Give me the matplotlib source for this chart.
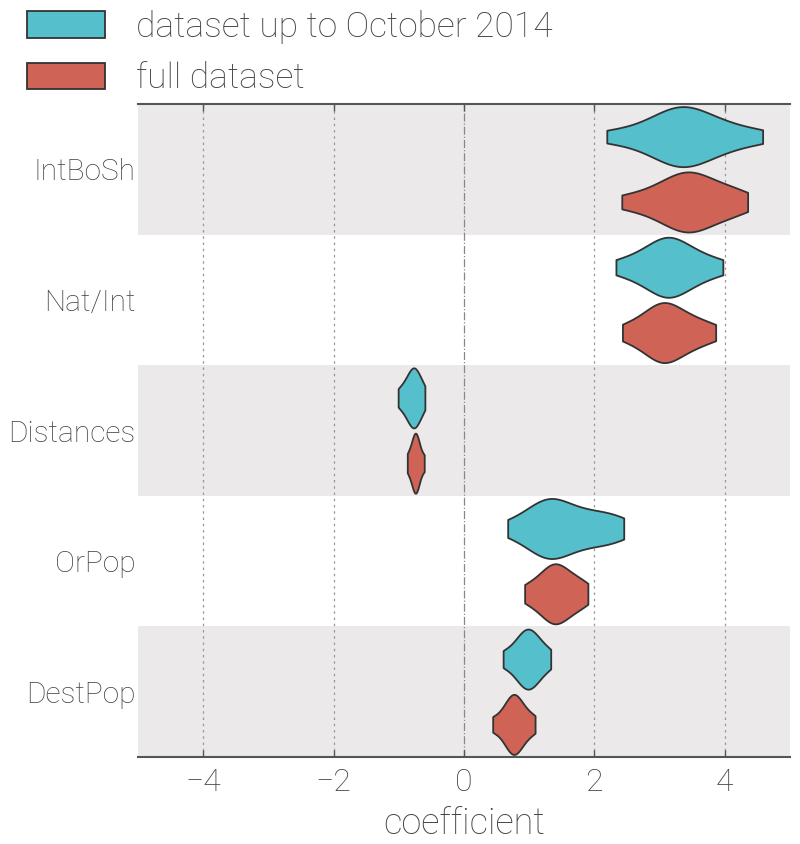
import numpy as np
import matplotlib
matplotlib.use('Agg')
import matplotlib.pyplot as plt
from matplotlib.patches import Patch

plt.rcParams['font.family'] = ['Roboto', 'DejaVu Sans']
plt.rcParams['font.weight'] = 'light'
plt.rcParams['axes.labelweight'] = 'light'

# posterior draws per predictor
predictors = ['IntBoSh', 'Nat/Int', 'Distances', 'OrPop', 'DestPop']
intbosh_early = [2.19, 2.6, 2.85, 3.0, 3.12, 3.22, 3.3, 3.38, 3.46, 3.55, 3.66, 3.8, 3.98, 4.2, 4.58]
intbosh_full = [2.42, 2.75, 2.95, 3.1, 3.2, 3.3, 3.38, 3.45, 3.52, 3.6, 3.7, 3.82, 3.98, 4.12, 4.35]
natint_early = [2.33, 2.6, 2.75, 2.88, 2.97, 3.05, 3.11, 3.17, 3.24, 3.32, 3.42, 3.55, 3.7, 3.97]
natint_full = [2.43, 2.65, 2.78, 2.88, 2.96, 3.02, 3.07, 3.13, 3.2, 3.28, 3.38, 3.5, 3.64, 3.86]
distances_early = [-1.01, -0.93, -0.88, -0.84, -0.81, -0.78, -0.76, -0.73, -0.7, -0.66, -0.6]
distances_full = [-0.87, -0.82, -0.79, -0.77, -0.75, -0.74, -0.72, -0.7, -0.67, -0.61]
orpop_early = [0.67, 0.95, 1.08, 1.18, 1.25, 1.32, 1.38, 1.45, 1.55, 1.68, 1.82, 1.96, 2.12, 2.28, 2.45]
orpop_full = [0.93, 1.1, 1.2, 1.28, 1.34, 1.39, 1.44, 1.5, 1.57, 1.66, 1.76, 1.9]
destpop_early = [0.6, 0.75, 0.83, 0.89, 0.94, 0.98, 1.02, 1.07, 1.13, 1.2, 1.33]
destpop_full = [0.44, 0.58, 0.65, 0.7, 0.74, 0.77, 0.8, 0.84, 0.9, 0.97, 1.09]

early = [intbosh_early, natint_early, distances_early, orpop_early, destpop_early]
full = [intbosh_full, natint_full, distances_full, orpop_full, destpop_full]
labels = ['dataset up to October 2014', 'full dataset']

CYAN = '#56bfcc'
RED = '#cf6456'
EDGE = '#333333'
BAND = '#ebe9ea'
TEXT = '#444444'

fig = plt.figure(figsize=(8, 8.44), dpi=100)
ax = fig.add_axes([0.1725, 0.103, 0.815, 0.7738])

n = len(predictors)
pos = np.arange(n)
for i in range(0, n, 2):
	ax.axhspan(i - 0.5, i + 0.5, color=BAND, zorder=0, lw=0)

for x in [-4, -2, 2, 4]:
	ax.axvline(x, color='#999999', lw=0.9, ls=(0, (2, 3)), zorder=1)
ax.axvline(0, color='#888888', lw=0.9, ls='-.', zorder=1)

for data, offset, color in [(early, -0.25, CYAN), (full, 0.25, RED)]:
	parts = ax.violinplot(data, positions=pos + offset, vert=False, widths=0.46,
						  showextrema=False, bw_method=0.5, points=200)
	for body in parts['bodies']:
		body.set_facecolor(color)
		body.set_edgecolor(EDGE)
		body.set_linewidth(1.3)
		body.set_alpha(1)
		body.set_zorder(3)

ax.set_xlim(-5, 5)
ax.set_ylim(n - 0.5, -0.5)
ax.set_yticks(pos)
ax.set_yticklabels(predictors, fontsize=21.5, color=TEXT)
ax.set_xticks([-4, -2, 0, 2, 4])
ax.set_xticklabels(['\u22124', '\u22122', '0', '2', '4'], fontsize=23, color=TEXT)
ax.tick_params(axis='y', length=0, pad=2)
ax.tick_params(axis='x', direction='in', top=True, length=5, width=1, color='#555555', pad=8)
ax.set_xlabel('coefficient', fontsize=26, color=TEXT, labelpad=6)
for side in ['left', 'right']:
	ax.spines[side].set_visible(False)
for side in ['top', 'bottom']:
	ax.spines[side].set_color('#555555')
	ax.spines[side].set_linewidth(1.5)

handles = [Patch(facecolor=CYAN, edgecolor=EDGE, lw=1.3), Patch(facecolor=RED, edgecolor=EDGE, lw=1.3)]
leg = fig.legend(handles, labels, loc='upper left', bbox_to_anchor=(0.034, 0.988), frameon=False,
				 fontsize=25.5, handlelength=2.2, handleheight=0.78, handletextpad=0.88,
				 labelspacing=0.5, borderpad=0, borderaxespad=0)
for t in leg.get_texts():
	t.set_color(TEXT)

fig.savefig('out.png', dpi=100)
